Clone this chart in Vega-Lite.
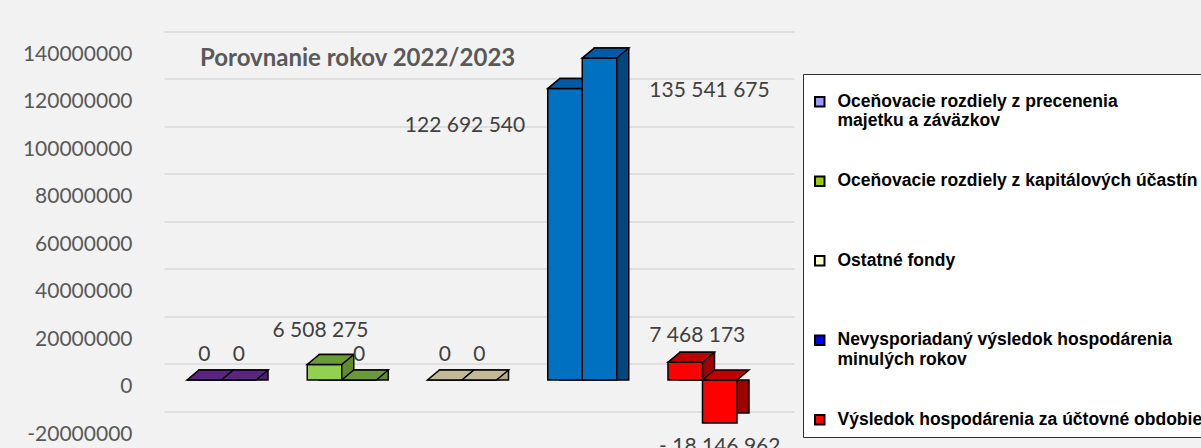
{
  "$schema": "https://vega.github.io/schema/vega-lite/v6.json",
  "width": 630,
  "height": 380,
  "autosize": "none",
  "padding": {"left": 152, "top": 47.5, "right": 419, "bottom": 20.5},
  "background": "#f2f2f2",
  "config": {
    "view": {"stroke": null},
    "locale": {"number": {"decimal": ",", "thousands": " ", "grouping": [3], "currency": ["", " €"], "minus": "-"}}
  },
  "title": {
    "text": "Porovnanie rokov 2022/2023",
    "anchor": "start",
    "frame": "group",
    "offset": 0,
    "dx": 48,
    "dy": 28,
    "font": "Lato",
    "fontSize": 24,
    "fontWeight": "bold",
    "color": "#595959"
  },
  "data": {
    "values": [
      {"cat": "Oceňovacie rozdiely z precenenia majetku a záväzkov", "year": "2022", "value": 0},
      {"cat": "Oceňovacie rozdiely z precenenia majetku a záväzkov", "year": "2023", "value": 0},
      {"cat": "Oceňovacie rozdiely z kapitálových účastín", "year": "2022", "value": 6508275},
      {"cat": "Oceňovacie rozdiely z kapitálových účastín", "year": "2023", "value": 0},
      {"cat": "Ostatné fondy", "year": "2022", "value": 0},
      {"cat": "Ostatné fondy", "year": "2023", "value": 0},
      {"cat": "Nevysporiadaný výsledok hospodárenia minulých rokov", "year": "2022", "value": 122692540},
      {"cat": "Nevysporiadaný výsledok hospodárenia minulých rokov", "year": "2023", "value": 135541675},
      {"cat": "Výsledok hospodárenia za účtovné obdobie", "year": "2022", "value": 7468173},
      {"cat": "Výsledok hospodárenia za účtovné obdobie", "year": "2023", "value": -18146962}
    ]
  },
  "encoding": {
    "x": {
      "field": "cat", "type": "nominal",
      "scale": {
        "domain": ["Oceňovacie rozdiely z precenenia majetku a záväzkov", "Oceňovacie rozdiely z kapitálových účastín", "Ostatné fondy", "Nevysporiadaný výsledok hospodárenia minulých rokov", "Výsledok hospodárenia za účtovné obdobie"],
        "paddingInner": 0.426, "paddingOuter": 0.3326, "align": 0.4375
      },
      "axis": null
    },
    "xOffset": {"field": "year", "type": "nominal", "scale": {"type": "band", "domain": ["2022", "2023"], "paddingInner": 0, "paddingOuter": 0}},
    "y": {
      "field": "value", "type": "quantitative",
      "scale": {"domain": [-20000000, 140000000], "nice": false, "zero": false},
      "axis": {
        "title": null,
        "values": [-20000000, 0, 20000000, 40000000, 60000000, 80000000, 100000000, 120000000, 140000000],
        "format": "d",
        "domain": false, "ticks": false,
        "grid": true, "gridColor": "#d9d9d9", "gridWidth": 1.5,
        "tickOffset": -16.5, "labelOffset": 23, "labelPadding": 20,
        "labelFont": "Lato", "labelFontSize": 21, "labelColor": "#595959"
      }
    }
  },
  "layer": [
    {
      "transform": [{"filter": "datum.year == '2022'"}],
      "mark": {"type": "bar", "yOffset": -10, "stroke": "black", "strokeWidth": 1.5},
      "encoding": {
        "x": {
          "field": "cat", "type": "nominal",
          "scale": {
            "domain": ["Oceňovacie rozdiely z precenenia majetku a záväzkov", "Oceňovacie rozdiely z kapitálových účastín", "Ostatné fondy", "Nevysporiadaný výsledok hospodárenia minulých rokov", "Výsledok hospodárenia za účtovné obdobie"],
            "paddingInner": 0.426, "paddingOuter": 0.3326, "align": 0.4375, "range": [12, 642]
          },
          "axis": null
        },
        "y2": {"datum": 0},
        "fill": {"field": "cat", "type": "nominal", "legend": null, "scale": {"domain": ["Oceňovacie rozdiely z precenenia majetku a záväzkov", "Oceňovacie rozdiely z kapitálových účastín", "Ostatné fondy", "Nevysporiadaný výsledok hospodárenia minulých rokov", "Výsledok hospodárenia za účtovné obdobie"], "range": ["#4f1f72", "#5f8c2e", "#b5ab85", "#00467f", "#a00000"]}}
      }
    },
    {
      "transform": [{"filter": "datum.year == '2022'"}],
      "mark": {"type": "bar", "stroke": "black", "strokeWidth": 1.5},
      "encoding": {
        "y2": {"datum": 0},
        "fill": {"field": "cat", "type": "nominal", "legend": null, "scale": {"domain": ["Oceňovacie rozdiely z precenenia majetku a záväzkov", "Oceňovacie rozdiely z kapitálových účastín", "Ostatné fondy", "Nevysporiadaný výsledok hospodárenia minulých rokov", "Výsledok hospodárenia za účtovné obdobie"], "range": ["#7030a0", "#92d050", "#ddd9c4", "#0070c0", "#ff0000"]}}
      }
    },
    {
      "transform": [{"filter": "datum.year == '2022'"}],
      "mark": {"type": "point", "shape": "M-0.8625,0L0.8625,0L1.4625,-0.5L-0.2625,-0.5Z", "size": 1600, "filled": true, "opacity": 1, "stroke": "black", "strokeWidth": 1.5},
      "encoding": {
        "fill": {"field": "cat", "type": "nominal", "legend": null, "scale": {"domain": ["Oceňovacie rozdiely z precenenia majetku a záväzkov", "Oceňovacie rozdiely z kapitálových účastín", "Ostatné fondy", "Nevysporiadaný výsledok hospodárenia minulých rokov", "Výsledok hospodárenia za účtovné obdobie"], "range": ["#5b2383", "#6b9b35", "#c4b996", "#005ba6", "#c00000"]}}
      }
    },
    {
      "transform": [{"filter": "datum.year == '2023'"}],
      "mark": {"type": "bar", "yOffset": -10, "stroke": "black", "strokeWidth": 1.5},
      "encoding": {
        "x": {
          "field": "cat", "type": "nominal",
          "scale": {
            "domain": ["Oceňovacie rozdiely z precenenia majetku a záväzkov", "Oceňovacie rozdiely z kapitálových účastín", "Ostatné fondy", "Nevysporiadaný výsledok hospodárenia minulých rokov", "Výsledok hospodárenia za účtovné obdobie"],
            "paddingInner": 0.426, "paddingOuter": 0.3326, "align": 0.4375, "range": [12, 642]
          },
          "axis": null
        },
        "y2": {"datum": 0},
        "fill": {"field": "cat", "type": "nominal", "legend": null, "scale": {"domain": ["Oceňovacie rozdiely z precenenia majetku a záväzkov", "Oceňovacie rozdiely z kapitálových účastín", "Ostatné fondy", "Nevysporiadaný výsledok hospodárenia minulých rokov", "Výsledok hospodárenia za účtovné obdobie"], "range": ["#4f1f72", "#5f8c2e", "#b5ab85", "#00467f", "#a00000"]}}
      }
    },
    {
      "transform": [{"filter": "datum.year == '2023'"}],
      "mark": {"type": "bar", "stroke": "black", "strokeWidth": 1.5},
      "encoding": {
        "y2": {"datum": 0},
        "fill": {"field": "cat", "type": "nominal", "legend": null, "scale": {"domain": ["Oceňovacie rozdiely z precenenia majetku a záväzkov", "Oceňovacie rozdiely z kapitálových účastín", "Ostatné fondy", "Nevysporiadaný výsledok hospodárenia minulých rokov", "Výsledok hospodárenia za účtovné obdobie"], "range": ["#7030a0", "#92d050", "#ddd9c4", "#0070c0", "#ff0000"]}}
      }
    },
    {
      "transform": [{"filter": "datum.year == '2023' && datum.value >= 0"}],
      "mark": {"type": "point", "shape": "M-0.8625,0L0.8625,0L1.4625,-0.5L-0.2625,-0.5Z", "size": 1600, "filled": true, "opacity": 1, "stroke": "black", "strokeWidth": 1.5},
      "encoding": {
        "fill": {"field": "cat", "type": "nominal", "legend": null, "scale": {"domain": ["Oceňovacie rozdiely z precenenia majetku a záväzkov", "Oceňovacie rozdiely z kapitálových účastín", "Ostatné fondy", "Nevysporiadaný výsledok hospodárenia minulých rokov", "Výsledok hospodárenia za účtovné obdobie"], "range": ["#5b2383", "#6b9b35", "#c4b996", "#005ba6", "#c00000"]}}
      }
    },
    {
      "transform": [{"filter": "datum.year == '2023' && datum.value < 0"}],
      "mark": {"type": "point", "shape": "M-0.8625,0L0.8625,0L1.4625,-0.5L-0.2625,-0.5Z", "size": 1600, "filled": true, "opacity": 1, "stroke": "black", "strokeWidth": 1.5},
      "encoding": {
        "y": {"datum": 0},
        "fill": {"field": "cat", "type": "nominal", "legend": null, "scale": {"domain": ["Oceňovacie rozdiely z precenenia majetku a záväzkov", "Oceňovacie rozdiely z kapitálových účastín", "Ostatné fondy", "Nevysporiadaný výsledok hospodárenia minulých rokov", "Výsledok hospodárenia za účtovné obdobie"], "range": ["#5b2383", "#6b9b35", "#c4b996", "#005ba6", "#c00000"]}}
      }
    },
    {
      "mark": {"type": "square", "opacity": 0},
      "encoding": {
        "color": {
          "field": "cat", "type": "nominal",
          "scale": {"domain": ["Oceňovacie rozdiely z precenenia majetku a záväzkov", "Oceňovacie rozdiely z kapitálových účastín", "Ostatné fondy", "Nevysporiadaný výsledok hospodárenia minulých rokov", "Výsledok hospodárenia za účtovné obdobie"], "range": ["#9999ff", "#99cc00", "#ffffcc", "#0000ff", "#ff0000"]},
          "legend": {
            "orient": "none", "legendX": 651, "legendY": 26.5,
            "title": " ", "titleFontSize": 10, "titlePadding": 1,
            "fillColor": "white", "strokeColor": "#303030", "padding": 8,
            "symbolType": "square", "symbolSize": 90, "symbolStrokeColor": "black", "symbolStrokeWidth": 2, "symbolOpacity": 1,
            "labelFont": "Liberation Sans", "labelFontWeight": "bold", "labelFontSize": 17.5, "labelColor": "black",
            "labelLimit": 600, "labelOffset": 9, "rowPadding": 41.5, "gridAlign": "all",
            "labelExpr": "datum.label == 'Oceňovacie rozdiely z precenenia majetku a záväzkov' ? ['Oceňovacie rozdiely z precenenia', 'majetku a záväzkov'] : datum.label == 'Nevysporiadaný výsledok hospodárenia minulých rokov' ? ['Nevysporiadaný výsledok hospodárenia', 'minulých rokov'] : datum.label"
          }
        }
      }
    },
    {
      "transform": [{"filter": "datum.value == 0"}],
      "mark": {"type": "text", "dy": -25, "font": "Lato", "fontSize": 21, "color": "#404040"},
      "encoding": {"text": {"field": "value", "type": "quantitative", "format": ",d"}}
    },
    {
      "transform": [{"filter": "datum.value == 6508275"}],
      "mark": {"type": "text", "dy": -34, "dx": -4, "font": "Lato", "fontSize": 21, "color": "#404040"},
      "encoding": {"text": {"field": "value", "type": "quantitative", "format": ",d"}}
    },
    {
      "transform": [{"filter": "datum.value == 7468173"}],
      "mark": {"type": "text", "dy": -26, "dx": 12, "font": "Lato", "fontSize": 21, "color": "#404040"},
      "encoding": {"text": {"field": "value", "type": "quantitative", "format": ",d"}}
    },
    {
      "transform": [{"filter": "datum.value == 122692540"}],
      "mark": {"type": "text", "dy": 37, "dx": -100, "font": "Lato", "fontSize": 21, "color": "#404040"},
      "encoding": {"text": {"field": "value", "type": "quantitative", "format": ",d"}}
    },
    {
      "transform": [{"filter": "datum.value == 135541675"}],
      "mark": {"type": "text", "dy": 33, "dx": 110, "font": "Lato", "fontSize": 21, "color": "#404040"},
      "encoding": {"text": {"field": "value", "type": "quantitative", "format": ",d"}}
    },
    {
      "transform": [{"filter": "datum.value < 0"}, {"calculate": "'- ' + format(abs(datum.value), ',d')", "as": "lbl"}],
      "mark": {"type": "text", "dy": 24, "font": "Lato", "fontSize": 21, "color": "#404040"},
      "encoding": {"text": {"field": "lbl", "type": "nominal"}}
    }
  ],
  "resolve": {"scale": {"fill": "independent", "x": "independent", "xOffset": "independent"}}
}
